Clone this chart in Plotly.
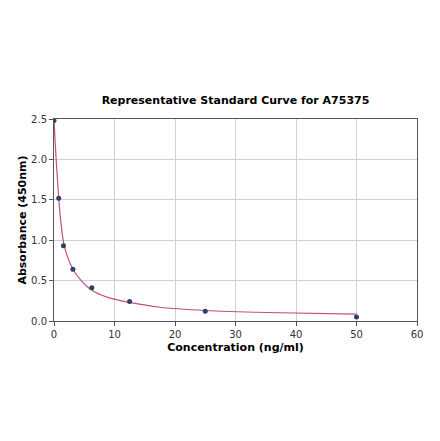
import plotly.graph_objects as go

# Standard points
conc = [0, 0.78, 1.56, 3.125, 6.25, 12.5, 25, 50]
absorb = [2.48, 1.52, 0.93, 0.64, 0.41, 0.24, 0.12, 0.05]

# Fitted curve
curve_x = [0, 0.1, 0.2, 0.4, 0.78, 1.2, 1.56, 2.2, 3.125, 4.5, 6.25, 9, 12.5, 17.5, 25, 35, 50]
curve_y = [2.5, 2.35, 2.2, 1.95, 1.52, 1.18, 0.98, 0.8, 0.64, 0.5, 0.38, 0.29, 0.23, 0.17, 0.13, 0.105, 0.085]

x_ticks = [0, 10, 20, 30, 40, 50, 60]
y_ticks = [0.0, 0.5, 1.0, 1.5, 2.0, 2.5]

fig = go.Figure()
fig.add_trace(go.Scatter(x=curve_x, y=curve_y, mode="lines",
                         line=dict(color="#c0507a", width=1.2, shape="spline", smoothing=0.6),
                         hoverinfo="skip"))
fig.add_trace(go.Scatter(x=conc, y=absorb, mode="markers",
                         marker=dict(color="#2f3f66", size=5)))

axis_common = dict(showgrid=True, gridcolor="#d0d0d0", gridwidth=1,
                   showline=True, linecolor="#555555", linewidth=1, mirror=True,
                   ticks="outside", ticklen=4, tickcolor="#555555",
                   tickfont=dict(family="DejaVu Sans", size=10, color="#333333"),
                   zeroline=False, automargin=False)

fig.update_layout(
    width=440, height=441,
    paper_bgcolor="white", plot_bgcolor="white",
    showlegend=False,
    margin=dict(l=46, r=31, t=111, b=128),
    title=dict(text="<b>Representative Standard Curve for A75375</b>",
               x=0.5, xanchor="center", xref="paper", y=1 - 92/441, yanchor="middle",
               font=dict(family="DejaVu Sans", size=11, color="black")),
    xaxis=dict(range=[0, 60], tickvals=x_ticks, ticktext=[str(v) for v in x_ticks],
               title=dict(text="<b>Concentration (ng/ml)</b>", standoff=4,
                          font=dict(family="DejaVu Sans", size=11, color="black")),
               **axis_common),
    yaxis=dict(range=[0, 2.5], tickvals=y_ticks, ticktext=[f"{v:.1f}" for v in y_ticks],
               title=dict(text="<b>Absorbance (450nm)</b>", standoff=2,
                          font=dict(family="DejaVu Sans", size=11, color="black")),
               **axis_common),
)

fig.write_html("out.html")
